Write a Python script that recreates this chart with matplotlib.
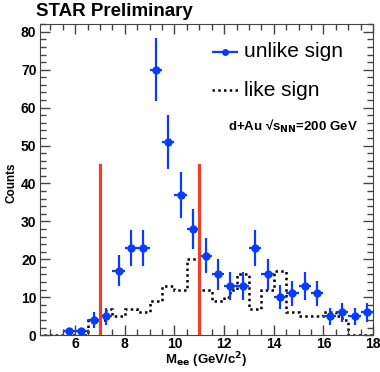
import numpy as np
import matplotlib.pyplot as plt
from matplotlib.ticker import MultipleLocator

plt.rcParams['font.family'] = ['Liberation Sans', 'DejaVu Sans']

# unlike sign pairs, 0.5 GeV bins
mass = [5.75, 6.25, 6.75, 7.25, 7.75, 8.25, 8.75, 9.25, 9.75, 10.25, 10.75,
        11.25, 11.75, 12.25, 12.75, 13.25, 13.75, 14.25, 14.75, 15.25, 15.75,
        16.25, 16.75, 17.25, 17.75]
unlike = [1, 1, 4, 5, 17, 23, 23, 70, 51, 37, 28,
          21, 16, 13, 13, 23, 16, 10, 11, 13, 11,
          5, 6, 5, 6]

# like sign pairs, 0.25 GeV bins from 4.5 to 18
like_edges = np.arange(4.5, 18.01, 0.25)
like = [0, 0, 0, 0, 0, 0, 0, 0,
        4, 4, 4, 7, 5, 5, 7, 7, 6, 6, 9, 9, 13, 13, 12, 12,
        20, 20, 12, 12, 9, 9, 10, 12, 16, 16, 7, 7, 12, 12, 17, 17,
        6, 6, 5, 5, 5, 5, 6, 6, 5, 4, 0, 0, 0, 0]

window = [7, 11]

fig = plt.figure(figsize=(3.8, 3.72), dpi=100)
ax = fig.add_axes([0.105, 0.099, 0.877, 0.836])

ax.stairs(like, like_edges, color='black', lw=1.8, linestyle=(0, (1, 1.3)))
ax.errorbar(mass, unlike, xerr=0.25, yerr=np.sqrt(unlike), fmt='o',
            color='#0a3cff', ms=5, lw=1.6, capsize=0)
for w in window:
    ax.plot([w, w], [0, 45], color='#ea4128', lw=2.3)

ax.set_xlim(4.58, 18)
ax.set_ylim(0, 82)
ax.xaxis.set_major_locator(MultipleLocator(2))
ax.xaxis.set_minor_locator(MultipleLocator(0.5))
ax.yaxis.set_major_locator(MultipleLocator(10))
ax.yaxis.set_minor_locator(MultipleLocator(2))
ax.tick_params(which='both', direction='in', top=True, right=True, width=1, color='#444444')
ax.tick_params(which='major', length=7, labelsize=10)
ax.tick_params(which='minor', length=4)
ax.tick_params(axis='x', which='major', pad=1.5)
ax.tick_params(axis='y', which='major', pad=2.5)
for lab in ax.get_xticklabels() + ax.get_yticklabels():
    lab.set_fontweight('bold')
for s in ax.spines.values():
    s.set_color('#444444')

ax.set_ylabel('Counts', fontsize=8.5, fontweight='bold')
ax.yaxis.set_label_coords(-0.066, 0.49)
ax.set_xlabel(r'M$_{\mathbf{ee}}$ (GeV/c$^{\mathbf{2}}$)', fontsize=9.5, fontweight='bold')
ax.xaxis.set_label_coords(0.5, -0.05)
fig.text(0.095, 0.957, 'STAR Preliminary', fontsize=13.5, fontweight='bold', va='baseline')

# legend
ax.errorbar([12.03], [74.7], xerr=0.53, fmt='o', color='#0a3cff', ms=4, lw=1.6)
ax.text(12.8, 74.7, 'unlike sign', fontsize=15, va='center')
ax.plot([11.5, 12.56], [64.6, 64.6], color='black', lw=1.8, linestyle=(0, (1, 1.3)))
ax.text(12.8, 64.6, 'like sign', fontsize=15, va='center')
ax.text(17.36, 55.1, r'd+Au √s$_{\mathbf{NN}}$=200 GeV', fontsize=9.5,
        fontweight='bold', ha='right', va='center')

fig.savefig('out.png', dpi=100)
